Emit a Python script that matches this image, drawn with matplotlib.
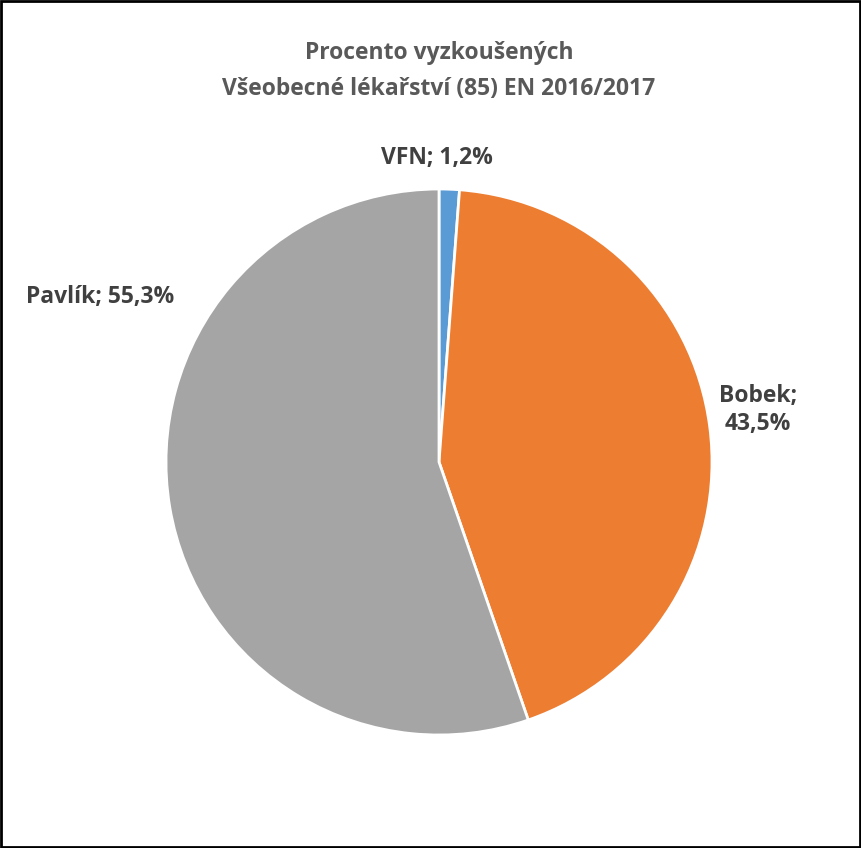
import matplotlib.pyplot as plt

labels = ["VFN", "Bobek", "Pavlík"]
values = [1.2, 43.5, 55.3]
colors = ["#5B9BD5", "#ED7D31", "#A5A5A5"]
# label anchor points in pixels (x, y from top)
label_pos = [(437, 158), (758, 410), (100, 297)]

W, H = 861, 848
fig = plt.figure(figsize=(W / 100, H / 100), dpi=100)
plt.rcParams['font.family'] = ['Open Sans', 'DejaVu Sans']

cx, cy, r = 439, 462, 273
ax = fig.add_axes([(cx - r) / W, (H - cy - r) / H, 2 * r / W, 2 * r / H])
ax.pie(values, colors=colors, startangle=90, counterclock=False,
       wedgeprops=dict(edgecolor="white", linewidth=2))
ax.set_xlim(-1, 1)
ax.set_ylim(-1, 1)
ax.set_aspect("equal")
ax.axis("off")

fig.text(cx / W, 1 - 53 / H, "Procento vyzkoušených", ha="center", va="center",
         fontsize=16.5, fontweight="bold", color="#595959")
fig.text(cx / W, 1 - 89 / H, "Všeobecné lékařství (85) EN 2016/2017", ha="center",
         va="center", fontsize=16.5, fontweight="bold", color="#595959")

for lab, v, (x, y) in zip(labels, values, label_pos):
    txt = f"{lab}; {v:.1f}%".replace(".", ",")
    if lab == "Bobek":
        txt = f"{lab};\n{v:.1f}%".replace(".", ",")
    fig.text(x / W, 1 - y / H, txt, ha="center", va="center", fontsize=16.5,
             fontweight="bold", color="#404040", linespacing=1.25)

border = plt.Rectangle((0.001, 0.001), 0.998, 0.998, transform=fig.transFigure,
                       fill=False, edgecolor="black", linewidth=2)
fig.patches.append(border)

fig.savefig("out.png", dpi=100)
